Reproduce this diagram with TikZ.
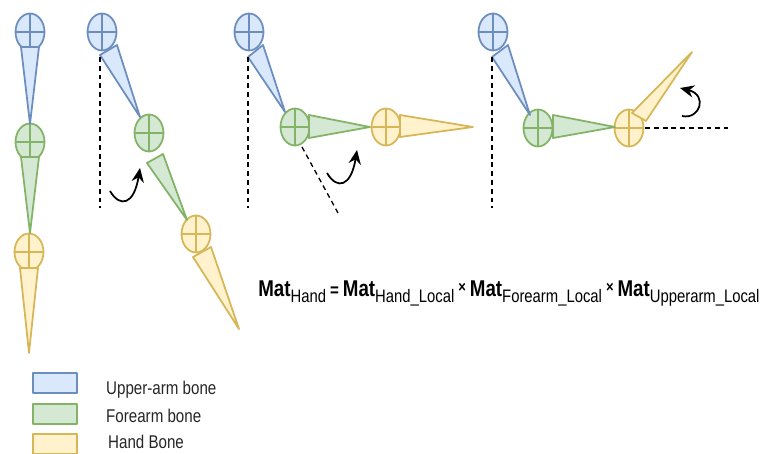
\documentclass[tikz,border=0pt]{standalone}
\usepackage{fontspec}
\setmainfont{Liberation Sans}[FakeStretch=0.82]
\usetikzlibrary{arrows.meta,positioning}
\definecolor{upperfill}{HTML}{DAE8FC}
\definecolor{upperline}{HTML}{6C8EBF}
\definecolor{forefill}{HTML}{D5E8D4}
\definecolor{foreline}{HTML}{82B366}
\definecolor{handfill}{HTML}{FFF2CC}
\definecolor{handline}{HTML}{D6B656}
\newcommand\matof[1]{{\fontsize{13}{15}\selectfont\bfseries Mat}{\fontsize{10.3}{12}\selectfont\raisebox{-3.5pt}{#1}}}
\newcommand\opsign[1]{{\fontsize{10.5}{12}\selectfont\bfseries #1}}

\begin{document}
\begin{tikzpicture}[x=0.02cm, y=-0.02cm,
    upper/.style={draw=upperline, fill=upperfill, line width=1pt, line join=round},
    fore/.style={draw=foreline, fill=forefill, line width=1pt, line join=round},
    hand/.style={draw=handline, fill=handfill, line width=1pt, line join=round},
    guide/.style={dash pattern=on 2.8pt off 2.2pt, line width=0.75pt},
    turn/.style={line width=1pt, -{Stealth[length=8pt,width=7pt]}},
    legbox/.style={minimum width=0.88cm, minimum height=0.4cm, inner sep=0pt},
    legtext/.style={inner sep=0pt, font=\fontsize{10.5}{12}\selectfont, text=black!85}]
        \useasboundingbox (0,0) rectangle (783,453);
        % joints
        \foreach \x/\y/\c in {30/32/upper, 30/142/fore, 29/252/hand,
                102/32/upper, 149/133/fore, 196/234/hand,
                249/32/upper, 295/127/fore, 386/127/hand,
                493/32/upper, 538/128/fore, 629/128/hand}
        {
            \draw[\c] (\x,\y) ellipse (14.5 and 18.5);
            \draw[\c, fill=none] (\x-14.5,\y) -- (\x+14.5,\y) (\x,\y-18.5) -- (\x,\y+18.5);
        }
        % bones, straight arm
        \draw[upper] (21,47) -- (39,47) -- (30,124) -- cycle;
        \draw[fore] (21,157) -- (39,157) -- (30,233) -- cycle;
        \draw[hand] (20,268) -- (38,268) -- (29,353) -- cycle;
        % bones, second arm
        \draw[upper] (100,55) -- (117,45) -- (140,117) -- cycle;
        \draw[fore] (147,163) -- (163,154) -- (187,220) -- cycle;
        \draw[hand] (193,257) -- (211,247) -- (239,329) -- cycle;
        \draw[guide] (100,57) -- (100,208);
        \draw[turn] (110,191) .. controls (120,208) and (134,205) .. (140,168);
        % bones, third arm
        \draw[upper] (248,57) -- (263,45) -- (285,112) -- cycle;
        \draw[fore] (309,115) -- (309,138) -- (370,127) -- cycle;
        \draw[hand] (400,115) -- (400,137) -- (473,127) -- cycle;
        \draw[guide] (248,57) -- (248,208);
        \draw[guide] (302,147) -- (338,213);
        \draw[turn] (327,173) .. controls (337,190) and (351,187) .. (357,150);
        % bones, fourth arm
        \draw[upper] (492,57) -- (508,45) -- (530,115) -- cycle;
        \draw[fore] (553,115) -- (553,138) -- (615,127) -- cycle;
        \draw[hand] (632,113) -- (646,121) -- (692,52) -- cycle;
        \draw[guide] (492,57) -- (492,208);
        \draw[guide] (645,128) -- (728,128);
        \draw[turn] (682,116) .. controls (700,120) and (708,95) .. (680,88);
        % formula
        \node[anchor=base west, inner sep=0pt] (formula) at (258,296)
            {\matof{Hand} \opsign{=} \matof{Hand\_Local} \opsign{\raisebox{2pt}{\small ×}} \matof{Forearm\_Local} \opsign{\raisebox{2pt}{\small ×}} \matof{Upperarm\_Local}};
        % legend
        \node[legbox, upper] (keyupper) at (55,383) {};
        \node[legbox, fore, below=0.18cm of keyupper] (keyfore) {};
        \node[legbox, hand, below=0.17cm of keyfore] (keyhand) {};
        \node[legtext, anchor=base west] (keyuppertext) at ([xshift=0.56cm, yshift=-0.5pt]keyupper.south east) {Upper-arm bone};
        \node[legtext, anchor=base west] (keyforetext) at ([xshift=0.56cm, yshift=1.5pt]keyfore.south east) {Forearm bone};
        \node[legtext, anchor=base west] (keyhandtext) at ([xshift=0.6cm, yshift=3.5pt]keyhand.south east) {Hand Bone};
\end{tikzpicture}
\end{document}
